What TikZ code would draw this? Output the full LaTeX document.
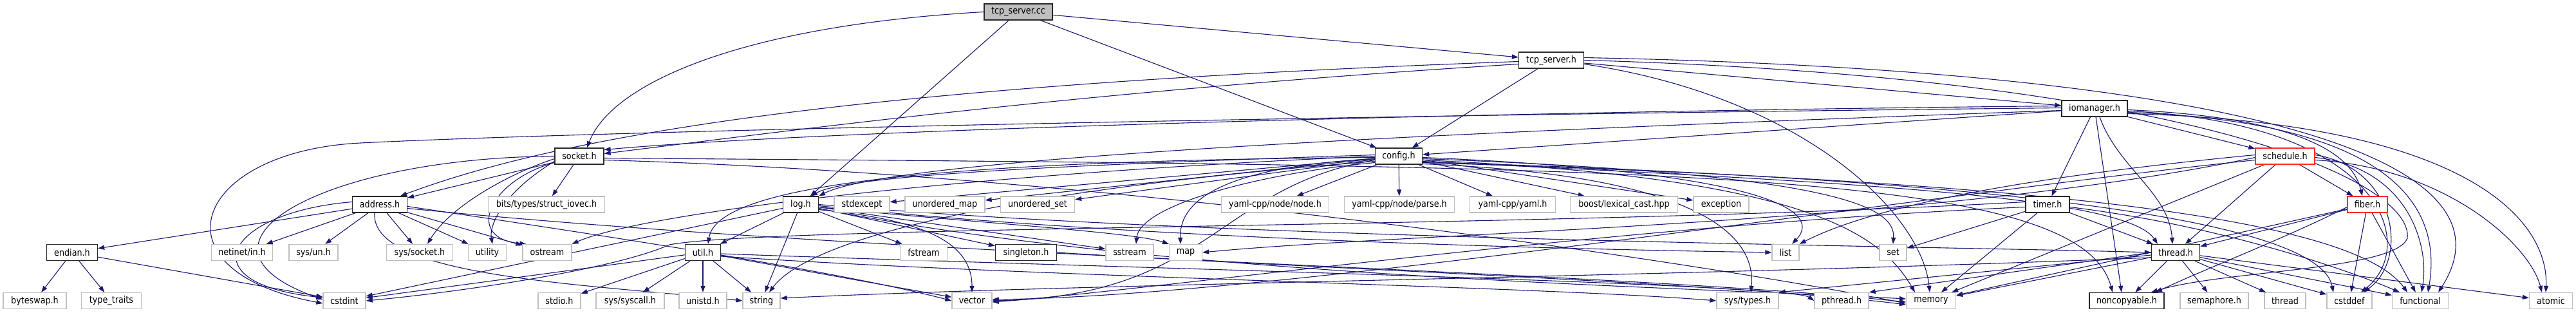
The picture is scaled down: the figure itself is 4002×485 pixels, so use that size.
\documentclass[tikz,border=0pt]{standalone}
\usepackage{fontspec}
\setmainfont{DejaVu Sans}[FakeStretch=0.88]
\usetikzlibrary{arrows.meta}
\definecolor{edgec}{RGB}{25,25,112}
\definecolor{grayb}{RGB}{191,191,191}
\definecolor{darkb}{RGB}{40,40,40}
\definecolor{redb}{RGB}{255,40,40}
\pgfdeclarelayer{edges}
\pgfsetlayers{edges,main}
\tikzset{
  base/.style={rectangle, inner sep=0pt, minimum height=25pt, fill=white, line width=1.3pt,
    font=\fontsize{14.5}{17}\selectfont},
  hdr/.style={base, draw=darkb},
  sysh/.style={base, draw=grayb},
  trunc/.style={base, draw=redb},
  root/.style={base, draw=darkb, fill=grayb},
  e/.style={draw=edgec, line width=1.1pt, -{Triangle[length=10pt,width=7pt]}}
}
\begin{document}
\begin{tikzpicture}[x=1pt,y=-1pt]
\useasboundingbox (0,0) rectangle (4002,485);
% row 0-3
\node[root,minimum width=106] (tcpcc) at (1582,18.5) {tcp\_server.cc};
\node[hdr,minimum width=101] (tcph) at (2410,93.5) {tcp\_server.h};
\node[hdr,minimum width=102] (ioman) at (3254,168.5) {iomanager.h};
\node[hdr,minimum width=76] (sock) at (900,242.5) {socket.h};
\node[hdr,minimum width=73] (conf) at (2173,242.5) {config.h};
\node[trunc,minimum width=92] (sched) at (3550,242.5) {schedule.h};
% row 4
\node[hdr,minimum width=85] (addr) at (590,317.5) {address.h};
\node[sysh,minimum width=181] (iovec) at (849,317.5) {bits/types/struct\_iovec.h};
\node[hdr,minimum width=55] (logh) at (1244,317.5) {log.h};
\node[sysh,minimum width=86] (stdexc) at (1339,317.5) {stdexcept};
\node[sysh,minimum width=124] (umap) at (1468,317.5) {unordered\_map};
\node[sysh,minimum width=115] (uset) at (1612,317.5) {unordered\_set};
\node[sysh,minimum width=167] (ynode) at (1981,317.5) {yaml-cpp/node/node.h};
\node[sysh,minimum width=171] (yparse) at (2174,317.5) {yaml-cpp/node/parse.h};
\node[sysh,minimum width=133] (yaml) at (2350,317.5) {yaml-cpp/yaml.h};
\node[sysh,minimum width=167] (boost) at (2523,317.5) {boost/lexical\_cast.hpp};
\node[sysh,minimum width=86] (excp) at (2674,317.5) {exception};
\node[hdr,minimum width=68] (timer) at (3181,317.5) {timer.h};
\node[trunc,minimum width=62] (fiber) at (3678,317.5) {fiber.h};
% row 5
\node[hdr,minimum width=79] (endian) at (112,392) {endian.h};
\node[sysh,minimum width=95] (netin) at (376,392) {netinet/in.h};
\node[sysh,minimum width=76] (sysun) at (487,392) {sys/un.h};
\node[sysh,minimum width=103] (syssock) at (652,392) {sys/socket.h};
\node[sysh,minimum width=59] (utilty) at (757,392) {utility};
\node[sysh,minimum width=76] (ostr) at (850,392) {ostream};
\node[hdr,minimum width=55] (utilh) at (1092,392) {util.h};
\node[sysh,minimum width=73] (fstr) at (1435,392) {fstream};
\node[hdr,minimum width=95] (singl) at (1594,392) {singleton.h};
\node[sysh,minimum width=74] (sstr) at (1755,392) {sstream};
\node[sysh,minimum width=51] (map) at (1842,392) {map};
\node[sysh,minimum width=42] (list) at (2774,392) {list};
\node[sysh,minimum width=42] (set) at (2941,392) {set};
\node[hdr,minimum width=75] (thd) at (3380,392) {thread.h};
% row 6
\node[sysh,minimum width=98] (byteswap) at (54,467) {byteswap.h};
\node[sysh,minimum width=93] (typetr) at (173,467) {type\_traits};
\node[sysh,minimum width=66] (cstdint) at (535,467) {cstdint};
\node[sysh,minimum width=66] (stdio) at (869,467) {stdio.h};
\node[sysh,minimum width=106] (syscall) at (979,467) {sys/syscall.h};
\node[sysh,minimum width=74] (unistd) at (1092,467) {unistd.h};
\node[sysh,minimum width=58] (string) at (1183,467) {string};
\node[sysh,minimum width=62] (vector) at (1510,467) {vector};
\node[sysh,minimum width=96] (systypes) at (2715,467) {sys/types.h};
\node[sysh,minimum width=84] (pthread) at (2861,467) {pthread.h};
\node[sysh,minimum width=77] (memory) at (3000,467) {memory};
\node[hdr,minimum width=116] (noncopy) at (3304,467) {noncopyable.h};
\node[sysh,minimum width=106] (sema) at (3440,467) {semaphore.h};
\node[sysh,minimum width=64] (thrd) at (3550,467) {thread};
\node[sysh,minimum width=70] (cstddef) at (3650,467) {cstddef};
\node[sysh,minimum width=87] (functional) at (3760,467) {functional};
\node[sysh,minimum width=67] (atomic) at (3963,467) {atomic};

\begin{pgfonlayer}{edges}
% tcp_server.cc
\draw[e] (tcpcc) -- (tcph);
\draw[e] (tcpcc) -- (conf);
\draw[e] (tcpcc) -- (logh);
\draw[e] (tcpcc.west) .. controls (1150,40) and (950,130) .. ([xshift=12]sock.north);
% tcp_server.h
\draw[e] (tcph) -- (ioman);
\draw[e] ([yshift=-2]tcph.west) .. controls (1400,130) and (900,200) .. ([xshift=32]addr.north);
\draw[e] ([yshift=-6]tcph.west) .. controls (1700,140) and (1250,200) .. ([yshift=4]sock.east);
\draw[e] (tcph) -- (conf);
\draw[e] ([yshift=-6]tcph.east) .. controls (2800,150) and (2985,330) .. ([xshift=-2]memory.north);
\draw[e] ([yshift=4]tcph.east) .. controls (3500,110) and (3920,250) .. ([xshift=28]functional.north);
\draw[e] (tcph.east) .. controls (3400,120) and (3750,280) .. (3740,370) .. controls (3720,420) and (3450,420) .. ([xshift=38]noncopy.north);
% iomanager.h
\draw[e] (ioman) -- (sched);
\draw[e] (ioman) -- (timer);
\draw[e] ([xshift=8]ioman.south) .. controls (3290,260) and (3370,300) .. ([xshift=-5]thd.north);
\draw[e] ([xshift=2]ioman.south) -- ([xshift=-8]noncopy.north);
\draw[e] ([yshift=-2]ioman.east) .. controls (3520,180) and (3650,220) .. ([xshift=-8]fiber.north);
\draw[e] ([yshift=-4]ioman.east) .. controls (3700,190) and (3760,380) .. ([xshift=18]cstddef.north);
\draw[e] ([yshift=-6]ioman.east) .. controls (3760,190) and (3790,350) .. ([xshift=12]functional.north);
\draw[e] ([yshift=-8]ioman.east) .. controls (3850,190) and (3960,350) .. ([xshift=-8]atomic.north);
\draw[e] (ioman) -- (conf);
\draw[e] ([yshift=-3]ioman.west) .. controls (2400,200) and (1400,240) .. (logh.north east);
\draw[e] ([yshift=4]ioman.west) .. controls (2400,172) and (1300,200) .. ([yshift=10]sock.east);
\draw[e] ([yshift=1]ioman.west) .. controls (2000,180) and (900,205) .. (560,222) .. controls (300,235) and (230,420) .. ([yshift=-4]cstdint.west);
% socket.h
\draw[e] (sock) -- (addr);
\draw[e] (sock) -- (iovec);
\draw[e] ([yshift=-4]sock.west) .. controls (790,270) and (700,320) .. ([xshift=12]syssock.north);
\draw[e] ([yshift=-8]sock.west) .. controls (780,300) and (760,350) .. ([xshift=8]utilty.north);
\draw[e] ([yshift=-10]sock.west) .. controls (760,280) and (720,370) .. ([xshift=6]ostr.north west);
\draw[e] (sock.west) .. controls (500,245) and (260,380) .. ([yshift=2]cstdint.west);
\draw[e] ([yshift=-3]sock.east) .. controls (2600,258) and (3230,262) .. ([xshift=-22]noncopy.north);
\draw[e] ([yshift=-6]sock.east) .. controls (1700,270) and (2600,400) .. ([yshift=-4]memory.west);
% address.h
\draw[e] (addr) -- (endian);
\draw[e] (addr) -- (netin);
\draw[e] (addr) -- (sysun);
\draw[e] (addr) -- (syssock);
\draw[e] (addr) -- (utilty);
\draw[e] (addr) -- (ostr);
\draw[e] ([yshift=4]addr.west) .. controls (350,330) and (290,440) .. ([yshift=5]cstdint.west);
\draw[e] ([xshift=-8]addr.south) .. controls (575,430) and (900,440) .. (string.west);
\draw[e] ([yshift=-3]addr.east) .. controls (900,360) and (1300,420) .. (vector.west);
\draw[e] ([yshift=-6]addr.east) .. controls (1400,400) and (2500,420) .. ([yshift=-2]memory.west);
% endian.h
\draw[e] (endian) -- (byteswap);
\draw[e] (endian) -- (typetr);
\draw[e] (endian) -- (cstdint);
% log.h
\draw[e] (logh) -- (utilh);
\draw[e] (logh) -- (fstr);
\draw[e] (logh) -- (singl);
\draw[e] (logh) -- (sstr);
\draw[e] ([yshift=-4]logh.east) .. controls (1500,345) and (1760,360) .. (map.north west);
\draw[e] ([yshift=-8]logh.east) .. controls (1420,340) and (1510,370) .. (vector.north);
\draw[e] (logh) -- (string);
\draw[e] (logh) -- (cstdint);
\draw[e] ([yshift=-2]logh.east) .. controls (1700,365) and (2300,385) .. (list.west);
\draw[e] ([yshift=-6]logh.east) .. controls (1800,430) and (2600,445) .. ([yshift=3]memory.west);
\draw[e] (logh.east) .. controls (1900,372) and (3000,382) .. (thd.west);
% util.h
\draw[e] (utilh) -- (stdio);
\draw[e] (utilh) -- (syscall);
\draw[e] (utilh) -- (unistd);
\draw[e] (utilh) -- (string);
\draw[e] (utilh) -- (cstdint);
\draw[e] (utilh) -- (vector);
\draw[e] ([yshift=-6]utilh.east) .. controls (1600,430) and (2400,445) .. (systypes.west);
\draw[e] ([yshift=-2]utilh.east) .. controls (1700,415) and (2780,440) .. (pthread.west);
% singleton.h
\draw[e] (singl.east) .. controls (2000,415) and (2700,440) .. ([yshift=-6]memory.west);
% config.h
\draw[e] ([yshift=2]conf.west) .. controls (1700,255) and (1320,270) .. ([xshift=16]logh.north);
\draw[e] ([yshift=-2]conf.west) .. controls (1350,250) and (1112,300) .. ([xshift=8]utilh.north);
\draw[e] (conf) -- (stdexc);
\draw[e] (conf) -- (umap);
\draw[e] (conf) -- (uset);
\draw[e] (conf) -- (ynode);
\draw[e] (conf) -- (yparse);
\draw[e] (conf) -- (yaml);
\draw[e] (conf) -- (boost);
\draw[e] (conf) -- (excp);
\draw[e] ([yshift=-2]conf.east) .. controls (2700,265) and (2840,320) .. ([xshift=10]list.north);
\draw[e] ([yshift=-4]conf.east) .. controls (2850,270) and (2945,320) .. (set.north);
\draw[e] ([yshift=-4]conf.west) .. controls (1880,260) and (1832,320) .. ([xshift=-8]map.north);
\draw[e] ([yshift=-6]conf.west) .. controls (1890,290) and (1880,460) .. (vector.east);
\draw[e] ([yshift=-8]conf.west) .. controls (1500,300) and (1250,380) .. ([xshift=12]string.north);
\draw[e] ([yshift=-6]conf.east) .. controls (2800,275) and (2920,360) .. ([xshift=-25]memory.north);
\draw[e] ([yshift=-10]conf.west) .. controls (1950,270) and (1770,320) .. ([xshift=10]sstr.north);
\draw[e] ([yshift=-8]conf.east) .. controls (2800,280) and (3300,300) .. ([xshift=-28]thd.north);
\draw[e] ([yshift=-9]conf.east) .. controls (3000,275) and (3600,330) .. ([xshift=-25]cstddef.north);
\draw[e] ([yshift=-10]conf.east) .. controls (3100,280) and (3650,330) .. ([xshift=-20]functional.north);
\draw[e] ([yshift=-12]conf.east) .. controls (2600,270) and (2730,350) .. ([xshift=5]systypes.north);
\draw[e] (conf.west) .. controls (1500,270) and (1000,330) .. (ostr.north east);
% timer.h
\draw[e] (timer) -- (thd);
\draw[e] (timer) -- (memory);
\draw[e] (timer) -- (set);
\draw[e] ([yshift=-4]timer.west) .. controls (2500,350) and (1800,450) .. ([yshift=-2]vector.east);
\draw[e] ([yshift=-4]timer.east) .. controls (3450,350) and (3650,420) .. ([xshift=-32]functional.north);
\draw[e] ([yshift=4]timer.west) .. controls (2400,355) and (1200,350) .. (1040,380) .. controls (950,420) and (700,455) .. (cstdint.east);
% schedule.h
\draw[e] (sched) -- (fiber);
\draw[e] (sched) -- (thd);
\draw[e] (sched) -- (memory);
\draw[e] ([yshift=2]sched.west) .. controls (3300,260) and (2950,300) .. (list.north east);
\draw[e] ([yshift=-2]sched.west) .. controls (3000,350) and (2200,360) .. (map.east);
\draw[e] ([yshift=-6]sched.west) .. controls (3000,300) and (2000,460) .. ([yshift=2]vector.east);
\draw[e] ([yshift=2]sched.east) .. controls (3720,260) and (3745,400) .. ([xshift=22]cstddef.north);
\draw[e] ([yshift=-2]sched.east) .. controls (3740,260) and (3775,380) .. ([xshift=2]functional.north);
\draw[e] ([yshift=-6]sched.east) .. controls (3800,260) and (3930,380) .. ([xshift=-14]atomic.north);
% fiber.h
\draw[e] (fiber) -- (thd);
\draw[e] (fiber) -- (cstddef);
\draw[e] (fiber) -- (functional);
\draw[e] ([yshift=-4]fiber.west) .. controls (3550,370) and (3420,420) .. ([xshift=45]noncopy.north);
\draw[e] (fiber) -- (memory);
% thread.h
\draw[e] (thd) -- (noncopy);
\draw[e] (thd) -- (sema);
\draw[e] (thd) -- (thrd);
\draw[e] (thd) -- (cstddef);
\draw[e] (thd) -- (functional);
\draw[e] (thd) -- (atomic);
\draw[e] (thd) -- (memory);
\draw[e] (thd.west) -- (pthread.north east);
\draw[e] ([yshift=-4]thd.west) -- (systypes.north east);
\draw[e] ([yshift=-8]thd.west) .. controls (2600,430) and (1700,440) .. ([yshift=4]string.east);
\end{pgfonlayer}
\end{tikzpicture}
\end{document}
